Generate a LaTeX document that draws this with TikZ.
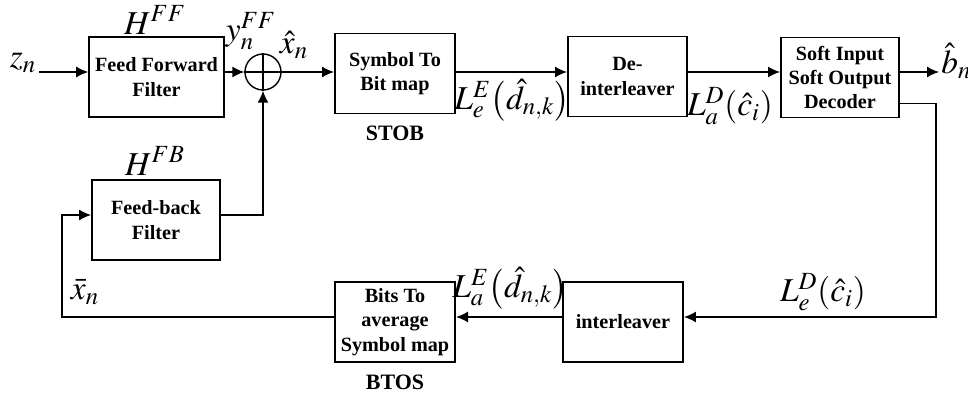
\documentclass[tikz,border=0pt]{standalone}
\usepackage{mathptmx}
\usepackage[no-math]{fontspec}
\setmainfont{Liberation Serif}
\usepackage{tikz}
\usetikzlibrary{arrows.meta, positioning, calc}

\begin{document}
\begin{tikzpicture}[>={Latex[length=2.4mm,width=2.2mm]}, line width=0.8pt]
\tikzstyle{block} = [rectangle, draw, line width=1.1pt, minimum height=1.6cm, minimum width=2.4cm, align=center, font=\fontsize{11.5}{13.8}\selectfont\bfseries]
\tikzstyle{arrow} = [->, line width=0.8pt]
\tikzstyle{sig} = [font=\fontsize{19}{22}\selectfont, inner sep=1pt]
\tikzstyle{tag} = [font=\fontsize{12.5}{14}\selectfont\bfseries]

\useasboundingbox (0,0) rectangle (19.36,-7.94);

% forward path
\node[sig] (zin) at (0.46,-1.26) {$z_n$};
\node[block, minimum width=2.58cm] (ff) at (3.13,-1.54) {Feed Forward\\Filter};
\node[circle, draw, minimum size=0.72cm, inner sep=0pt] (sum) at (5.26,-1.44) {};
\draw (sum.north) -- (sum.south) (sum.west) -- (sum.east);
\node[block] (stob) at (7.9,-1.47) {Symbol To\\Bit map};
\node[block, minimum width=2.38cm] (deint) at (12.55,-1.53) {De-\\interleaver};
\node[block, minimum width=2.36cm] (siso) at (16.8,-1.55) {Soft Input\\Soft Output\\Decoder};
\node[sig, anchor=west] (bhat) at (18.78,-1.22) {$\hat{b}_n$};

% feedback path
\node[block, minimum width=2.56cm] (fb) at (3.12,-4.40) {Feed-back\\Filter};
\node[block] (btos) at (7.9,-6.44) {Bits To\\average\\Symbol map};
\node[block] (inter) at (12.46,-6.44) {interleaver};
\coordinate (turn) at (18.72,-6.34);
\coordinate (back) at (1.24,-6.34);

% labels
\node[sig] (hff) at (3.1,-0.40) {$H^{FF}$};
\node[sig] (hfb) at (3.1,-3.22) {$H^{FB}$};
\node[sig] (yff) at (5.02,-0.62) {$y_n^{FF}$};
\node[sig] (xhat) at (5.88,-0.9) {$\hat{x}_n$};
\node[tag, below=0.1cm of stob] (stobtag) {STOB};
\node[tag, below=0.1cm of btos] (btostag) {BTOS};
\node[sig] (lee) at (10.24,-2.0) {$L_e^E\!\left(\hat{d}_{n,k}\right)$};
\node[sig] (lad) at (14.6,-2.12) {$L_a^D\!\left(\hat{c}_i\right)$};
\node[sig] (led) at (16.46,-5.84) {$L_e^D\!\left(\hat{c}_i\right)$};
\node[sig] (lae) at (10.2,-5.76) {$L_a^E\!\left(\hat{d}_{n,k}\right)$};
\node[sig] (xbar) at (1.7,-5.84) {$\bar{x}_n$};

% connections
\draw[arrow] (zin.east |- sum) -- (ff.west |- sum);
\draw[arrow] (ff.east |- sum) -- (sum.west);
\draw[arrow] (sum.east) -- (stob.west |- sum);
\draw[arrow] (stob.east |- sum) -- (deint.west |- sum);
\draw[arrow] (deint.east |- sum) -- (siso.west |- sum);
\draw[arrow] (siso.east |- sum) -- (bhat.west |- sum);
\draw[arrow] ([yshift=-0.52cm]siso.east) -| (turn) -- (inter.east |- turn);
\draw[arrow] (inter.west |- turn) -- (btos.east |- turn);
\draw[arrow] (btos.west |- turn) -- (back) |- ([yshift=0.1cm]fb.west);
\draw[arrow] ([yshift=0.1cm]fb.east) -| (sum.south);
\end{tikzpicture}
\end{document}
